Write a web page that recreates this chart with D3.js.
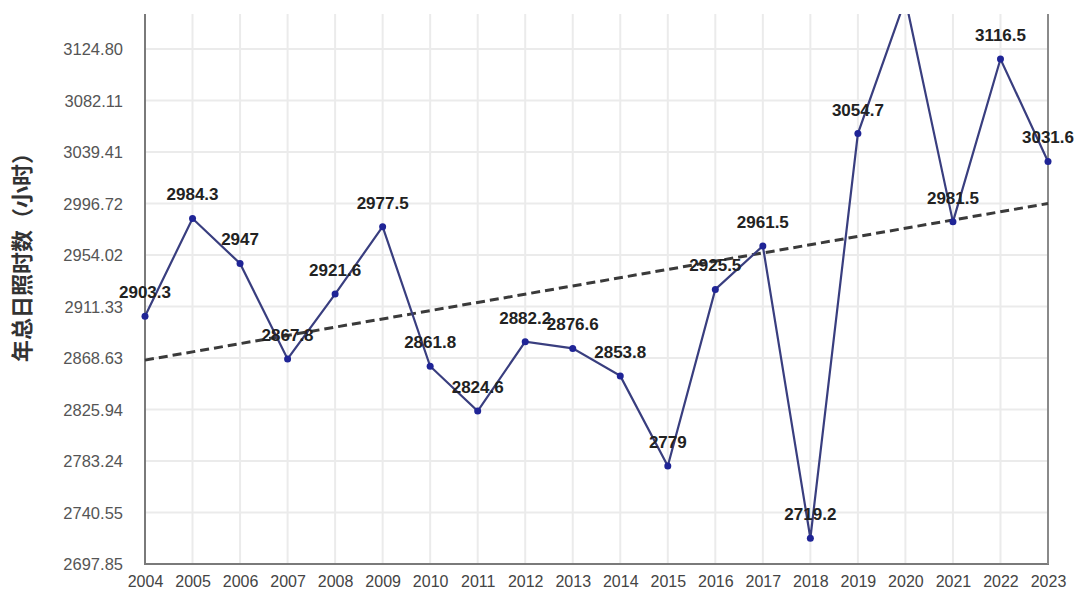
<!DOCTYPE html>
<html>
<head>
<meta charset="utf-8">
<script src="https://cdn.jsdelivr.net/npm/d3@7"></script>
<style>
  html, body { margin: 0; padding: 0; background: #fff; }
  svg { display: block; }
</style>
</head>
<body>
<svg id="chart" width="1081" height="599"></svg>
<script>
// ---- data ----
const years = ["2004","2005","2006","2007","2008","2009","2010","2011","2012","2013",
               "2014","2015","2016","2017","2018","2019","2020","2021","2022","2023"];
const hours = [2903.3, 2984.3, 2947, 2867.8, 2921.6, 2977.5, 2861.8, 2824.6, 2882.2, 2876.6,
               2853.8, 2779, 2925.5, 2961.5, 2719.2, 3054.7, 3166, 2981.5, 3116.5, 3031.6];
const labelText = ["2903.3","2984.3","2947","2867.8","2921.6","2977.5","2861.8","2824.6","2882.2","2876.6",
                   "2853.8","2779","2925.5","2961.5","2719.2","3054.7","3166","2981.5","3116.5","3031.6"];
const yTickValues = [2697.85, 2740.55, 2783.24, 2825.94, 2868.63, 2911.33, 2954.02, 2996.72, 3039.41, 3082.11, 3124.80];
const yTickLabels = ["2697.85","2740.55","2783.24","2825.94","2868.63","2911.33","2954.02","2996.72","3039.41","3082.11","3124.80"];
const yAxisTitle = "年总日照时数（小时）";
const yMin = 2697.85, yMax = 3167.5;

// ---- layout ----
const svg = d3.select("#chart");
const left = 145, right = 1048, bottom = 564, visTop = 14;
const topAtMax = bottom - 11 * 51.5;

const x = d3.scalePoint().domain(years).range([left, right]).padding(0);
const y = d3.scaleLinear().domain([yMin, yMax]).range([bottom, topAtMax]);

svg.append("defs").append("clipPath").attr("id", "plotclip")
  .append("rect").attr("x", left - 10).attr("y", visTop).attr("width", right - left + 20).attr("height", bottom - visTop + 10);

// gridlines
const grid = svg.append("g");
grid.selectAll("line.h").data(yTickValues.slice(1)).join("line")
  .attr("x1", left).attr("x2", right)
  .attr("y1", d => y(d)).attr("y2", d => y(d))
  .attr("stroke", "#ebebeb").attr("stroke-width", 2);
grid.selectAll("line.v").data(years.slice(1, -1)).join("line")
  .attr("x1", d => x(d)).attr("x2", d => x(d))
  .attr("y1", visTop).attr("y2", bottom)
  .attr("stroke", "#ebebeb").attr("stroke-width", 2);

// axis frame
svg.append("line").attr("x1", left).attr("x2", left).attr("y1", visTop).attr("y2", bottom)
  .attr("stroke", "#7a7a7a").attr("stroke-width", 2);
svg.append("line").attr("x1", left - 1).attr("x2", right + 1).attr("y1", bottom).attr("y2", bottom)
  .attr("stroke", "#7a7a7a").attr("stroke-width", 2);
svg.append("line").attr("x1", right).attr("x2", right).attr("y1", visTop).attr("y2", bottom)
  .attr("stroke", "#8a8a8a").attr("stroke-width", 2);

// y axis labels
const yAxis = d3.axisLeft(y).tickValues(yTickValues).tickSize(0).tickPadding(0)
  .tickFormat((d, i) => yTickLabels[i]);
const gy = svg.append("g").attr("transform", `translate(${123},0)`).call(yAxis);
gy.select(".domain").remove();
gy.selectAll("text").attr("font-family", "'Liberation Sans', Arial, sans-serif")
  .attr("font-size", 16.5).attr("fill", "#555").attr("dy", "0.35em");

// x axis labels
const xAxis = d3.axisBottom(x).tickSize(0).tickPadding(0);
const gx = svg.append("g").attr("transform", `translate(0,${576})`).call(xAxis);
gx.select(".domain").remove();
gx.selectAll("text").attr("font-family", "'Liberation Sans', Arial, sans-serif")
  .attr("font-size", 16).attr("fill", "#444").attr("dy", "0.71em");

// y title
svg.append("text")
  .attr("transform", `translate(30,252) rotate(-90)`)
  .attr("text-anchor", "middle")
  .attr("font-family", "'Noto Sans CJK SC', sans-serif")
  .attr("font-size", 22).attr("font-weight", "bold").attr("fill", "#333")
  .text(yAxisTitle);

// trend line (least squares)
const n = hours.length;
const xs = d3.range(n);
const mx = d3.mean(xs), my = d3.mean(hours);
const slope = d3.sum(xs, i => (i - mx) * (hours[i] - my)) / d3.sum(xs, i => (i - mx) ** 2);
const icpt = my - slope * mx;
const plot = svg.append("g").attr("clip-path", "url(#plotclip)");
plot.append("line")
  .attr("x1", x(years[0])).attr("y1", y(icpt))
  .attr("x2", x(years[n - 1])).attr("y2", y(icpt + slope * (n - 1)))
  .attr("stroke", "#3a3a3a").attr("stroke-width", 3).attr("stroke-dasharray", "9,5");

// series line
const line = d3.line().x((d, i) => x(years[i])).y(d => y(d));
plot.append("path").datum(hours).attr("d", line)
  .attr("fill", "none").attr("stroke", "#393e7f").attr("stroke-width", 2.2);

plot.selectAll("circle").data(hours).join("circle")
  .attr("cx", (d, i) => x(years[i])).attr("cy", d => y(d)).attr("r", 3.5)
  .attr("fill", "#1f2496");

// data labels (only those that fall inside the visible plot)
const labelIdx = d3.range(n).filter(i => y(hours[i]) - 30 > visTop);
svg.append("g").selectAll("text").data(labelIdx).join("text")
  .attr("x", i => x(years[i])).attr("y", i => y(hours[i]) - 18)
  .attr("text-anchor", "middle")
  .attr("font-family", "'Liberation Sans', Arial, sans-serif")
  .attr("font-size", 17).attr("font-weight", "bold").attr("fill", "#222")
  .text(i => labelText[i]);
</script>
</body>
</html>
